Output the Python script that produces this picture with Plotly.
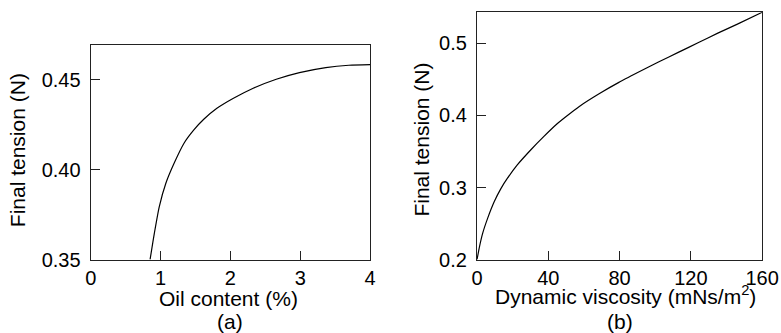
import plotly.graph_objects as go

# reference picture size (all positions below are given in these pixels)
W, H = 781, 333
# page size that the screenshot actually covers
FIG_W, FIG_H = 795, 344

oil_content = [0.85, 0.911, 0.982, 1.076, 1.194, 1.336, 1.477, 1.619, 1.807, 2.044,
               2.327, 2.657, 2.989, 3.366, 3.697, 4.00]
tension_a = [0.3500, 0.3646, 0.3795, 0.3925, 0.4036, 0.4148, 0.4222, 0.4281, 0.4342, 0.4398,
             0.4454, 0.4504, 0.4541, 0.4569, 0.4582, 0.4585]

viscosity = [0.0, 1.4, 3.2, 6.0, 9.7, 13.4, 17.1, 22.6, 30.1, 37.4, 44.8, 50.0, 57.4,
             68.5, 79.6, 90.7, 101.8, 112.9, 124.0, 135.1, 146.1, 160.0]
tension_b = [0.200, 0.218, 0.2367, 0.2575, 0.2805, 0.2985, 0.3129, 0.3313, 0.352, 0.3705,
             0.3880, 0.3985, 0.4125, 0.4300, 0.4458, 0.4601, 0.4740, 0.4874, 0.5007,
             0.5141, 0.5266, 0.5430]

xticks_a = [0, 1, 2, 3, 4]
yticks_a = [0.35, 0.40, 0.45]
xticks_b = [0, 40, 80, 120, 160]
yticks_b = [0.2, 0.3, 0.4, 0.5]

FONT = "Liberation Sans, Arial, sans-serif"
TICK_FS = 20
TITLE_FS = 21

fig = go.Figure()
fig.add_trace(go.Scatter(x=oil_content, y=tension_a, mode="lines",
                         line=dict(color="black", width=1.2, shape="spline", smoothing=0.6),
                         xaxis="x", yaxis="y", showlegend=False))
fig.add_trace(go.Scatter(x=viscosity, y=tension_b, mode="lines",
                         line=dict(color="black", width=1.2, shape="spline", smoothing=0.4),
                         xaxis="x2", yaxis="y2", showlegend=False))

def px_x(p):
    return p / W

def px_y(p):
    return 1 - p / H

axis_common = dict(showgrid=False, zeroline=False, showline=True, mirror=True,
                   linecolor="#222", linewidth=1.2, ticks="inside", ticklen=9,
                   tickwidth=1.2, tickcolor="#222",
                   tickfont=dict(family=FONT, size=TICK_FS, color="black"))

fig.update_layout(
    width=FIG_W, height=FIG_H,
    margin=dict(l=0, r=0, t=0, b=0, pad=0),
    paper_bgcolor="white", plot_bgcolor="white",
    font=dict(family=FONT, size=TICK_FS, color="black"),
    xaxis=dict(domain=[px_x(85.7), px_x(368.3)], range=[0, 4], tickvals=xticks_a,
               anchor="y", ticklabelstandoff=0, **axis_common),
    yaxis=dict(domain=[px_y(259.6), px_y(45.3)], range=[0.35, 0.4693], tickvals=yticks_a,
               tickformat=".2f", anchor="x", ticklabelstandoff=5, **axis_common),
    xaxis2=dict(domain=[px_x(476.5), px_x(765)], range=[0, 160], tickvals=xticks_b,
                anchor="y2", ticklabelstandoff=0, **axis_common),
    yaxis2=dict(domain=[px_y(259.6), px_y(12.3)], range=[0.2, 0.543], tickvals=yticks_b,
                tickformat=".1f", anchor="x2", ticklabelstandoff=5, **axis_common),
)

ann = [
    dict(text="Final tension (N)", x=px_x(11.3), y=px_y(150), textangle=-90),
    dict(text="Final tension (N)", x=px_x(419.4), y=px_y(140), textangle=-90),
    dict(text="Oil content (%)", x=px_x(225.3), y=px_y(298.5)),
    dict(text="(a)", x=px_x(227), y=px_y(321)),
    dict(text="Dynamic viscosity (mNs/m<sup>2</sup>)", x=px_x(626.7), y=px_y(295)),
    dict(text="(b)", x=px_x(621), y=px_y(321)),
]
for a in ann:
    fig.add_annotation(xref="paper", yref="paper", showarrow=False,
                       xanchor="center", yanchor="middle",
                       font=dict(family=FONT, size=TITLE_FS, color="black"), **a)

fig.write_html(
    "out.html",
    config={"displayModeBar": False},
    post_script="document.documentElement.style.margin='0';document.body.style.margin='0';"
                "document.documentElement.style.overflow='hidden';document.body.style.overflow='hidden';",
)
